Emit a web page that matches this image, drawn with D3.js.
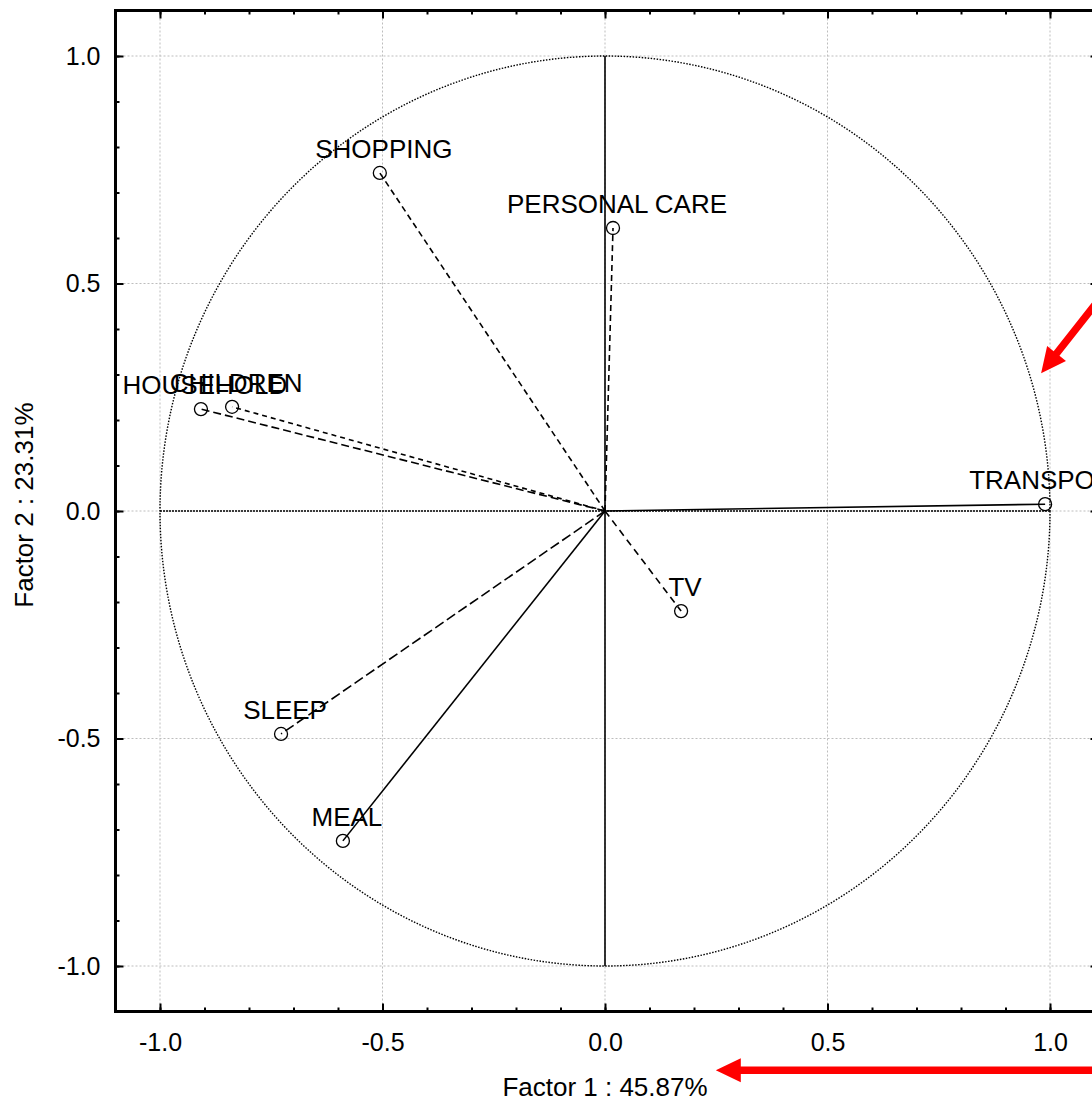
<!DOCTYPE html>
<html>
<head>
<meta charset="UTF-8">
<title>Factor loadings</title>
<script src="https://cdn.jsdelivr.net/npm/d3@7"></script>
<style>
  body { margin: 0; background: #fff; }
  text { font-family: Arial, "Liberation Sans", sans-serif; fill: #000; }
</style>
</head>
<body>
<svg id="chart" width="1092" height="1100"></svg>
<script>
// variables and their coordinates on factor 1 / factor 2
var names   = ["SHOPPING", "PERSONAL CARE", "HOUSEHOLD", "CHILDREN", "TRANSPORT", "TV", "SLEEP", "MEAL"];
var factor1 = [-0.506, 0.018, -0.908, -0.838, 0.989, 0.171, -0.728, -0.589];
var factor2 = [0.743, 0.622, 0.224, 0.229, 0.015, -0.220, -0.490, -0.725];

var majorTicks = [-1.0, -0.5, 0.0, 0.5, 1.0];
var minorTicks = d3.range(-11, 12).map(function(i){ return i / 10; });

var xTitle = "Factor 1 : 45.87%";
var yTitle = "Factor 2 : 23.31%";

// line dash per variable (style only)
var dashes = {
  "SHOPPING": "6,4", "PERSONAL CARE": "6,4", "HOUSEHOLD": "8,4", "CHILDREN": "5,4",
  "TRANSPORT": null, "TV": "7,5", "SLEEP": "10,4", "MEAL": null
};

var svg = d3.select("#chart");

var x = d3.scaleLinear().domain([-1.1, 1.1]).range([115.5, 1094.5]);
var y = d3.scaleLinear().domain([-1.1, 1.1]).range([1011.5, 10.5]);

var fmt = function(d){ return d.toFixed(1); };

// grid
var grid = svg.append("g").attr("stroke", "#bdbdbd").attr("stroke-width", 1).attr("stroke-dasharray", "2,2");
grid.selectAll(".gx").data(majorTicks).enter().append("line")
  .attr("x1", function(d){ return x(d); }).attr("x2", function(d){ return x(d); })
  .attr("y1", y(1.1)).attr("y2", y(-1.1));
grid.selectAll(".gy").data(majorTicks).enter().append("line")
  .attr("y1", function(d){ return y(d); }).attr("y2", function(d){ return y(d); })
  .attr("x1", x(-1.1)).attr("x2", x(1.1));

// unit circle
svg.append("ellipse")
  .attr("cx", x(0)).attr("cy", y(0))
  .attr("rx", x(1) - x(0)).attr("ry", y(0) - y(1))
  .attr("fill", "none").attr("stroke", "#000").attr("stroke-width", 1.4)
  .attr("stroke-dasharray", "1.5,1.5");

// zero lines
svg.append("line")
  .attr("x1", x(-1)).attr("x2", x(1)).attr("y1", y(0)).attr("y2", y(0))
  .attr("stroke", "#000").attr("stroke-width", 1.4).attr("stroke-dasharray", "2,1");
svg.append("line")
  .attr("x1", x(0)).attr("x2", x(0)).attr("y1", y(1)).attr("y2", y(-1))
  .attr("stroke", "#000").attr("stroke-width", 1.6);

// vectors
var pts = names.map(function(n, i){ return {name: n, f1: factor1[i], f2: factor2[i]}; });

svg.selectAll(".vec").data(pts).enter().append("line")
  .attr("x1", x(0)).attr("y1", y(0))
  .attr("x2", function(d){ return x(d.f1); })
  .attr("y2", function(d){ return y(d.f2); })
  .attr("stroke", "#000").attr("stroke-width", 1.6)
  .attr("stroke-dasharray", function(d){ return dashes[d.name]; });

svg.selectAll(".pt").data(pts).enter().append("circle")
  .attr("cx", function(d){ return x(d.f1); })
  .attr("cy", function(d){ return y(d.f2); })
  .attr("r", 6.5)
  .attr("fill", "none").attr("stroke", "#000").attr("stroke-width", 1.3);

svg.selectAll(".lbl").data(pts).enter().append("text")
  .attr("x", function(d){ return x(d.f1) + 4; })
  .attr("y", function(d){ return y(d.f2) - 15; })
  .attr("text-anchor", "middle")
  .style("font-size", "26px")
  .text(function(d){ return d.name; });

// axes (ticks point inward)
function styleAxis(g) {
  g.select(".domain").remove();
  g.selectAll(".tick line").attr("stroke", "#000").attr("stroke-width", 2);
  g.selectAll("text").style("font-size", "25px").attr("fill", "#000");
}
function noLabels(g) { styleAxis(g); g.selectAll("text").remove(); }

svg.append("g").attr("transform", "translate(0," + y(-1.1) + ")")
  .call(d3.axisBottom(x).tickValues(minorTicks).tickSize(-4)).call(noLabels);
svg.append("g").attr("transform", "translate(0," + y(-1.1) + ")")
  .call(d3.axisBottom(x).tickValues(majorTicks).tickSize(-8).tickPadding(22).tickFormat(fmt)).call(styleAxis);

svg.append("g").attr("transform", "translate(0," + y(1.1) + ")")
  .call(d3.axisTop(x).tickValues(minorTicks).tickSize(-4)).call(noLabels);
svg.append("g").attr("transform", "translate(0," + y(1.1) + ")")
  .call(d3.axisTop(x).tickValues(majorTicks).tickSize(-8)).call(noLabels);

svg.append("g").attr("transform", "translate(" + x(-1.1) + ",0)")
  .call(d3.axisLeft(y).tickValues(minorTicks).tickSize(-4)).call(noLabels);
svg.append("g").attr("transform", "translate(" + x(-1.1) + ",0)")
  .call(d3.axisLeft(y).tickValues(majorTicks).tickSize(-8).tickPadding(15).tickFormat(fmt)).call(styleAxis);

svg.append("g").attr("transform", "translate(" + x(1.1) + ",0)")
  .call(d3.axisRight(y).tickValues(majorTicks).tickSize(-4)).call(noLabels);

// frame
svg.append("rect")
  .attr("x", x(-1.1)).attr("y", y(1.1))
  .attr("width", x(1.1) - x(-1.1)).attr("height", y(-1.1) - y(1.1))
  .attr("fill", "none").attr("stroke", "#000").attr("stroke-width", 3);

// axis titles
svg.append("text")
  .attr("x", x(0)).attr("y", 1096)
  .attr("text-anchor", "middle").style("font-size", "26px")
  .text(xTitle);
svg.append("text")
  .attr("transform", "translate(33," + y(0.013) + ") rotate(-90)")
  .attr("text-anchor", "middle").style("font-size", "26px")
  .text(yTitle);

// red annotation arrows (data coordinates)
function arrow(tipX, tipY, tailX, tailY) {
  var tx = x(tipX), ty = y(tipY), ex = x(tailX), ey = y(tailY);
  var dx = ex - tx, dy = ey - ty, len = Math.sqrt(dx * dx + dy * dy);
  var ux = dx / len, uy = dy / len, px = -uy, py = ux;
  var head = 25, hw = 12, sw = 3.7;
  var bx = tx + ux * head, by = ty + uy * head;
  var p = [
    [tx, ty],
    [bx + px * hw, by + py * hw],
    [bx + px * sw, by + py * sw],
    [ex + px * sw, ey + py * sw],
    [ex - px * sw, ey - py * sw],
    [bx - px * sw, by - py * sw],
    [bx - px * hw, by - py * hw]
  ];
  svg.append("path").attr("d", d3.line()(p) + "Z").attr("fill", "#ff0000");
}
arrow(0.249, -1.229, 1.12, -1.229);
arrow(0.980, 0.303, 1.12, 0.477);
</script>
</body>
</html>
